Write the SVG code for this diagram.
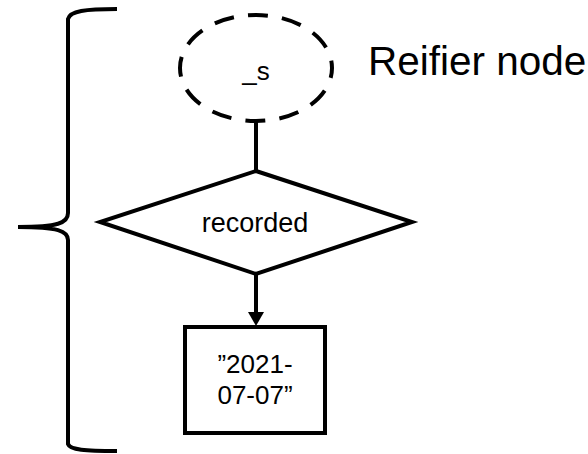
<svg xmlns="http://www.w3.org/2000/svg" width="588" height="454" viewBox="0 0 588 454">
<defs>
<style>
.ln{fill:none;stroke:#000;stroke-width:4}
.shape{fill:#fff;stroke:#000;stroke-width:4}
.t{font-family:"Liberation Sans",Arial,sans-serif;fill:#000;text-anchor:middle}
</style>
</defs>
<rect width="588" height="454" fill="#fff"/>
<g id="brace">
<path class="ln" d="M117,9 C85,9 70,11 68,19 L68,213 C68,223 58,227 18,227 C58,227 68,231 68,240 L68,444 C70,450 85,451 117,451"/>
</g>
<g id="connectors">
<line class="ln" x1="256" y1="121" x2="256" y2="171"/>
<line class="ln" x1="256" y1="273" x2="256" y2="313"/>
<polygon points="248,312 264,312 256,326" fill="#000"/>
</g>
<g id="reifier">
<ellipse cx="256" cy="68" rx="76" ry="53" fill="#fff" stroke="#000" stroke-width="4" stroke-dasharray="20,14.2" stroke-dashoffset="10"/>
<text class="t" x="256" y="80" font-size="26">_s</text>
</g>
<g id="recorded">
<polygon class="shape" points="256,171 412,222 256,274 100,222"/>
<text class="t" x="255" y="232" font-size="27">recorded</text>
</g>
<g id="literal">
<rect class="shape" x="185" y="327" width="140" height="106"/>
<text class="t" x="255" y="373" font-size="26">”2021-</text>
<text class="t" x="255" y="404" font-size="26">07-07”</text>
</g>
<g id="label">
<text x="368" y="75" font-size="40.5" font-family="Liberation Sans,Arial,sans-serif" fill="#000">Reifier node</text>
</g>
</svg>
